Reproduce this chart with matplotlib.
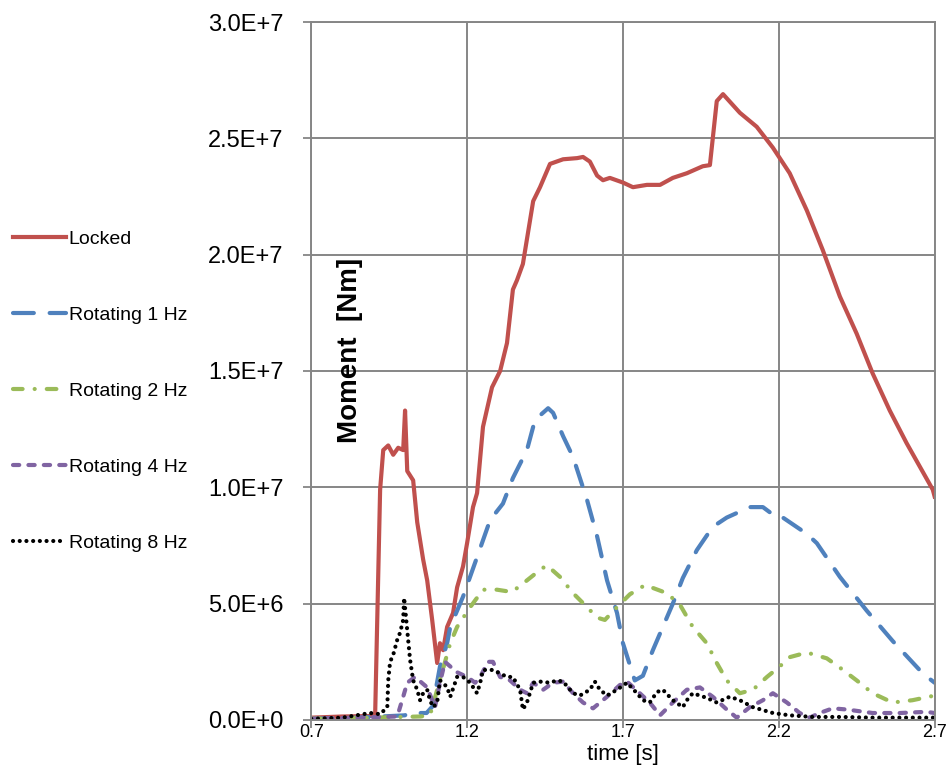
import matplotlib
matplotlib.use('Agg')
import matplotlib.pyplot as plt
from matplotlib.lines import Line2D

plt.rcParams['font.family'] = ['Liberation Sans', 'DejaVu Sans']

# values in 1e6 Nm
t_locked = [0.70, 0.80, 0.889, 0.905, 0.921, 0.931, 0.947, 0.963, 0.979, 0.995, 1.001, 1.008,
            1.027, 1.040, 1.059, 1.072, 1.088, 1.104, 1.113, 1.123, 1.136, 1.155, 1.168, 1.187,
            1.200, 1.219, 1.232, 1.251, 1.280, 1.306, 1.328, 1.347, 1.360, 1.379, 1.412, 1.434,
            1.466, 1.508, 1.553, 1.572, 1.594, 1.617, 1.636, 1.658, 1.700, 1.732, 1.777, 1.819,
            1.860, 1.905, 1.956, 1.979, 2.001, 2.021, 2.075, 2.129, 2.181, 2.235, 2.290, 2.341,
            2.396, 2.450, 2.501, 2.556, 2.610, 2.694, 2.70]
m_locked = [0.1, 0.15, 0.17, 0.2, 9.9, 11.6, 11.8, 11.4, 11.7, 11.6, 13.3, 10.7,
            10.3, 8.5, 6.9, 6.0, 4.3, 2.45, 3.3, 3.0, 4.0, 4.6, 5.7, 6.6,
            7.6, 9.15, 9.75, 12.6, 14.3, 15.0, 16.2, 18.5, 18.9, 19.6, 22.3, 22.9,
            23.9, 24.1, 24.15, 24.2, 24.0, 23.4, 23.2, 23.3, 23.1, 22.9, 23.0, 23.0,
            23.3, 23.5, 23.8, 23.85, 26.6, 26.9, 26.1, 25.5, 24.6, 23.5, 21.9, 20.2,
            18.2, 16.6, 14.9, 13.3, 11.9, 9.9, 9.6]

t_1hz = [0.70, 0.85, 1.00, 1.017, 1.07, 1.09, 1.113, 1.136, 1.146, 1.187, 1.232, 1.274, 1.315,
         1.347, 1.392, 1.418, 1.460, 1.476, 1.508, 1.540, 1.585, 1.617, 1.649, 1.681, 1.700,
         1.738, 1.764, 1.796, 1.828, 1.860, 1.892, 1.937, 1.988, 2.033, 2.107, 2.149, 2.194,
         2.213, 2.290, 2.322, 2.396, 2.482, 2.565, 2.662, 2.70]
m_1hz = [0.05, 0.1, 0.2, 0.3, 0.3, 0.6, 2.3, 3.3, 4.0, 5.3, 7.0, 8.6, 9.3,
         10.4, 11.6, 12.9, 13.4, 13.2, 12.2, 11.3, 9.45, 7.9, 6.0, 4.6, 3.3,
         1.7, 1.9, 3.0, 4.0, 5.0, 6.1, 7.3, 8.3, 8.7, 9.15, 9.15, 8.7,
         8.7, 8.0, 7.6, 6.15, 4.7, 3.4, 2.0, 1.6]

t_2hz = [0.70, 0.90, 1.05, 1.081, 1.146, 1.168, 1.210, 1.251, 1.296, 1.344, 1.392, 1.434, 1.456,
         1.498, 1.540, 1.585, 1.617, 1.642, 1.681, 1.722, 1.771, 1.841, 1.883, 1.924, 1.969,
         2.001, 2.033, 2.075, 2.117, 2.162, 2.203, 2.235, 2.290, 2.354, 2.396, 2.450, 2.501,
         2.565, 2.629, 2.70]
m_2hz = [0.05, 0.1, 0.15, 0.2, 3.3, 4.0, 4.85, 5.6, 5.6, 5.5, 6.0, 6.45, 6.65,
         6.15, 5.45, 4.85, 4.4, 4.3, 4.85, 5.4, 5.8, 5.45, 4.95, 4.0, 3.3,
         2.45, 1.7, 1.15, 1.3, 1.85, 2.3, 2.7, 2.9, 2.65, 2.25, 1.7, 1.15,
         0.75, 0.85, 1.05]

t_4hz = [0.70, 0.85, 0.976, 0.995, 1.008, 1.033, 1.072, 1.088, 1.097, 1.113, 1.129, 1.146, 1.168,
         1.200, 1.226, 1.242, 1.267, 1.283, 1.306, 1.338, 1.370, 1.392, 1.412, 1.444, 1.476,
         1.508, 1.540, 1.572, 1.604, 1.649, 1.690, 1.713, 1.754, 1.786, 1.819, 1.860, 1.905,
         1.947, 1.988, 2.033, 2.065, 2.107, 2.149, 2.181, 2.226, 2.267, 2.299, 2.331, 2.373,
         2.418, 2.501, 2.588, 2.674, 2.70]
m_4hz = [0.05, 0.1, 0.15, 1.0, 1.6, 1.85, 1.4, 0.85, 0.55, 1.6, 2.5, 2.3, 2.05,
         1.85, 1.6, 1.85, 2.5, 2.5, 1.85, 1.7, 1.3, 1.15, 1.6, 1.3, 1.6,
         1.65, 1.15, 0.75, 0.5, 1.0, 1.5, 1.65, 1.15, 0.75, 0.2, 0.75, 1.3,
         1.4, 1.0, 0.45, 0.1, 0.55, 0.85, 1.15, 0.75, 0.3, 0.1, 0.3, 0.5,
         0.45, 0.3, 0.3, 0.35, 0.3]

t_8hz = [0.70, 0.80, 0.889, 0.921, 0.944, 0.947, 0.953, 0.963, 0.976, 0.985, 0.995, 0.998, 1.008,
         1.017, 1.027, 1.040, 1.049, 1.059, 1.072, 1.081, 1.091, 1.104, 1.113, 1.123, 1.136,
         1.146, 1.168, 1.187, 1.210, 1.232, 1.242, 1.251, 1.283, 1.306, 1.328, 1.347, 1.370,
         1.379, 1.392, 1.412, 1.434, 1.466, 1.488, 1.508, 1.540, 1.562, 1.594, 1.610, 1.626,
         1.649, 1.681, 1.713, 1.745, 1.764, 1.786, 1.809, 1.828, 1.860, 1.892, 1.905, 1.924,
         1.969, 2.001, 2.043, 2.075, 2.117, 2.181, 2.235, 2.309, 2.396, 2.501, 2.70]
m_8hz = [0.05, 0.1, 0.3, 0.25, 0.55, 1.7, 2.5, 2.8, 3.45, 3.75, 4.3, 5.25, 3.85,
         2.6, 1.7, 1.3, 0.85, 1.15, 1.3, 0.85, 0.55, 0.75, 1.7, 1.6, 1.4,
         1.0, 1.85, 1.85, 1.6, 1.15, 1.6, 2.15, 2.15, 2.0, 1.85, 1.85, 1.3,
         0.45, 0.75, 1.6, 1.65, 1.6, 1.7, 1.65, 1.15, 1.05, 1.3, 1.65, 1.3,
         1.05, 1.3, 1.6, 1.15, 0.85, 0.75, 1.2, 1.3, 0.85, 0.55, 0.85, 1.15,
         0.95, 0.75, 1.0, 0.85, 0.55, 0.3, 0.2, 0.13, 0.13, 0.1, 0.1]

labels = ['Locked', 'Rotating 1 Hz', 'Rotating 2 Hz', 'Rotating 4 Hz', 'Rotating 8 Hz']
xticks = [0.7, 1.2, 1.7, 2.2, 2.7]
xtick_labels = ['0.7', '1.2', '1.7', '2.2', '2.7']
yticks = [0, 5e6, 1e7, 1.5e7, 2e7, 2.5e7, 3e7]
ytick_labels = ['0.0E+0', '5.0E+6', '1.0E+7', '1.5E+7', '2.0E+7', '2.5E+7', '3.0E+7']

fig = plt.figure(figsize=(9.46, 7.67), dpi=100)
ax = fig.add_axes([0.329, 0.0613, 0.659, 0.91])

lw = 3.0
series = [
    (t_locked, m_locked, '#C0504D', dict(linestyle='-')),
    (t_1hz, m_1hz, '#4F81BD', dict(dashes=(5, 3.8), dash_capstyle='round')),
    (t_2hz, m_2hz, '#9BBB59', dict(dashes=(2.3, 2.9, 0.01, 2.9), dash_capstyle='round')),
    (t_4hz, m_4hz, '#8064A2', dict(dashes=(1.5, 2.2), dash_capstyle='round')),
    (t_8hz, m_8hz, '#000000', dict(dashes=(0.01, 1.6), dash_capstyle='round')),
]
handles = []
for (t, m, c, st), lab in zip(series, labels):
    ax.plot(t, [v * 1e6 for v in m], color=c, lw=lw, label=lab, **st)
    handles.append(Line2D([], [], color=c, lw=lw, **st))

ax.set_xlim(0.7, 2.7)
ax.set_ylim(0, 3e7)
ax.set_xticks(xticks)
ax.set_xticklabels(xtick_labels, fontsize=13)
ax.set_yticks(yticks)
ax.set_yticklabels(ytick_labels, fontsize=17)
ax.tick_params(axis='y', length=6, width=1.3, color='#868686', pad=14)
ax.tick_params(axis='x', length=6, width=1.3, color='#868686', pad=-3)
ax.grid(True, color='#868686', lw=1.4)
for s in ax.spines.values():
    s.set_color('#868686')
    s.set_linewidth(1.4)

ax.text(0.0625, 0.53, 'Moment  [Nm]', transform=ax.transAxes, rotation=90,
        ha='center', va='center', fontsize=20, fontweight='bold')
ax.set_xlabel('time [s]', fontsize=16, labelpad=2)

fig.legend(handles, labels, loc='center left', bbox_to_anchor=(0.014, 0.49),
           frameon=False, fontsize=14, handlelength=2.7, handletextpad=0.15,
           labelspacing=3.0, borderpad=0, borderaxespad=0)

fig.savefig('out.png', dpi=100)
